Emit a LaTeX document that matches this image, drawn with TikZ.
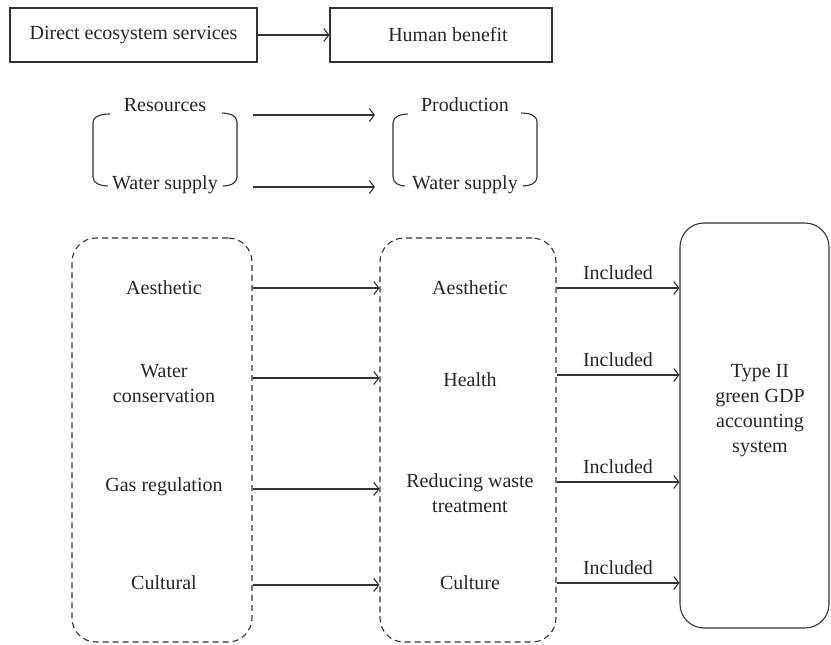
\documentclass[tikz,border=0pt]{standalone}
\usepackage{fontspec}
\setmainfont{Liberation Serif}
\usetikzlibrary{arrows.meta}
\begin{document}
\begin{tikzpicture}[x=1pt,y=-1pt,
  every node/.style={font=\fontsize{20}{25}\selectfont, inner sep=0pt, align=center, text=black!85},
  line/.style={draw=black!80, line width=1.1pt},
  arr/.style={line, -{Straight Barb[length=5pt,width=13pt,line width=1.1pt]}},
  sbox/.style={line, minimum width=#1, minimum height=54pt},
  dbox/.style={line, dash pattern=on 6pt off 4pt, rounded corners=24pt, minimum width=#1, minimum height=404pt},
  tbox/.style={line, rounded corners=24pt, minimum width=149pt, minimum height=405pt},
  lab/.style={midway, above=8pt}
]
\useasboundingbox (0,0) rectangle (831,645);
% top boxes
\node[sbox=247pt] (des) at (133.5,35) {Direct ecosystem services};
\node[sbox=222pt] (hb) at (441,35) {\hspace*{14pt}Human benefit};
\draw[arr] (des) -- (hb);
% bracket groups
\node (res) at (165,105) {Resources};
\node (ws1) at (165,185) {Water supply};
\node (pro) at (465,105) {Production};
\node (ws2) at (465,185) {Water supply};
\draw[line] (110,114) to[out=180,in=90] (93,123) -- (93,177) to[out=-90,in=180] (108,186);
\draw[line] (222,113) to[out=0,in=90] (237,122) -- (237,177) to[out=-90,in=0] (223,186);
\draw[line] (408,114) to[out=180,in=90] (393,123) -- (393,177) to[out=-90,in=180] (405,186);
\draw[line] (521,113) to[out=0,in=90] (537,122) -- (537,177) to[out=-90,in=0] (523,186);
\coordinate (a1) at (253,115);
\coordinate (b1) at (375,115);
\coordinate (a2) at (253,187);
\coordinate (b2) at (375,187);
\draw[arr] (a1) -- (b1);
\draw[arr] (a2) -- (b2);
% dashed boxes
\node[dbox=180pt] (lb) at (162,440) {};
\node[dbox=176pt] (mb) at (468,440) {};
\node[tbox] (tb) at (754.5,425.5) {};
\node (l1) at (164,288) {Aesthetic};
\node (l2) at (164,384) {Water\\conservation};
\node (l3) at (164,487) {Gas regulation};
\node (l4) at (164,583) {Cultural};
\node (m1) at (470,288) {Aesthetic};
\node (m2) at (470,380) {Health};
\node (m3) at (470,493) {Reducing waste\\treatment};
\node (m4) at (470,583) {Culture};
\node (t) at (760,411) {Type II\\green GDP\\accounting\\system};
\coordinate (r1) at (0,288);
\coordinate (r2) at (0,378);
\coordinate (r3) at (0,489);
\coordinate (r4) at (0,585);
\coordinate (q1) at (0,288);
\coordinate (q2) at (0,375);
\coordinate (q3) at (0,482);
\coordinate (q4) at (0,583);
\foreach \i in {1,2,3,4}{
  \draw[arr] (lb.east |- r\i) -- (mb.west |- r\i);
  \draw[arr] (mb.east |- q\i) -- node[lab] {Included} (tb.west |- q\i);
}
\end{tikzpicture}
\end{document}
